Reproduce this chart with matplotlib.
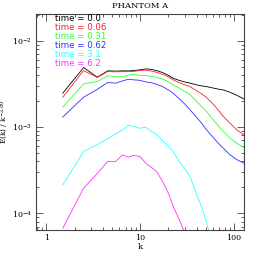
import numpy as np
from matplotlib import pyplot as plt
from matplotlib.ticker import LogLocator, FixedLocator, NullFormatter

nan = np.nan

# wavenumber shells
k = [1.5, 2.5, 3.5, 4.5, 5.5, 6.5, 7.5, 8.5, 10, 11.5, 13, 15, 17.5, 20,
     22.5, 26, 30, 34, 40, 45, 51, 60, 70, 77, 90, 107, 128]

labels = ["time = 0.0", "time = 0.06", "time = 0.31", "time = 0.62",
          "time = 3.1", "time = 6.2"]

e_t00 = [2.48e-3, 4.93e-3, 3.81e-3, 4.51e-3, 4.48e-3, 4.52e-3, 4.50e-3, 4.55e-3,
         4.64e-3, 4.75e-3, 4.70e-3, 4.55e-3, 4.30e-3, 4.00e-3, 3.70e-3, 3.50e-3,
         3.35e-3, 3.25e-3, 3.10e-3, 3.02e-3, 2.96e-3, 2.85e-3, 2.75e-3, 2.71e-3,
         2.55e-3, 2.35e-3, 2.12e-3]
e_t006 = [2.23e-3, 4.55e-3, 3.78e-3, 4.43e-3, 4.40e-3, 4.42e-3, 4.42e-3, 4.45e-3,
          4.55e-3, 4.60e-3, 4.50e-3, 4.35e-3, 4.10e-3, 3.85e-3, 3.55e-3, 3.30e-3,
          3.10e-3, 2.96e-3, 2.65e-3, 2.45e-3, 2.21e-3, 1.85e-3, 1.52e-3, 1.33e-3,
          1.12e-3, 9.3e-4, 8.1e-4]
e_t031 = [1.71e-3, 3.18e-3, 3.39e-3, 3.95e-3, 3.85e-3, 3.85e-3, 4.00e-3, 4.13e-3,
          3.98e-3, 4.00e-3, 3.90e-3, 3.80e-3, 3.60e-3, 3.35e-3, 3.10e-3, 2.85e-3,
          2.60e-3, 2.38e-3, 2.00e-3, 1.75e-3, 1.52e-3, 1.22e-3, 1.00e-3, 8.9e-4,
          7.5e-4, 6.5e-4, 5.8e-4]
e_t062 = [1.31e-3, 2.23e-3, 2.75e-3, 3.30e-3, 3.25e-3, 3.45e-3, 3.60e-3, 3.55e-3,
          3.50e-3, 3.35e-3, 3.30e-3, 3.15e-3, 2.95e-3, 2.70e-3, 2.48e-3, 2.15e-3,
          1.85e-3, 1.59e-3, 1.30e-3, 1.12e-3, 9.3e-4, 7.6e-4, 6.3e-4, 5.7e-4,
          4.8e-4, 4.2e-4, 3.8e-4]
e_t31 = [2.13e-4, 5.2e-4, 6.3e-4, 7.3e-4, 8.4e-4, 9.3e-4, 1.05e-3, 1.02e-3,
         9.7e-4, 1.00e-3, 9.0e-4, 8.2e-4, 6.9e-4, 6.0e-4, 5.2e-4, 4.0e-4,
         3.3e-4, 2.67e-4, 1.65e-4, 1.2e-4, 7.8e-5, 4.0e-5, nan, nan,
         nan, nan, nan]
e_t62 = [6.7e-5, 1.95e-4, 2.9e-4, 3.98e-4, 4.0e-4, 4.76e-4, 4.47e-4, 4.7e-4,
         4.55e-4, 3.8e-4, 3.45e-4, 3.05e-4, 2.3e-4, 1.7e-4, 1.2e-4, 8.5e-5,
         5.8e-5, nan, nan, nan, nan, nan, nan, nan,
         nan, nan, nan]

series = [e_t00, e_t006, e_t031, e_t062, e_t31, e_t62]
colors = ["black", "#ff2020", "#30ff30", "#3030ff", "#30ffff", "#ff30ff"]

plt.rcParams['font.family'] = ['DejaVu Serif']
plt.rcParams['mathtext.fontset'] = 'dejavuserif'

fig = plt.figure(figsize=(2.58, 2.58), dpi=100)
ax = fig.add_axes([0.14, 0.109, 0.806, 0.837])

for vals, c in zip(series, colors):
    ax.plot(k, vals, color=c, lw=0.6)

ax.set_xscale("log")
ax.set_yscale("log")
ax.set_xlim(0.78, 128)
ax.set_ylim(6.4e-5, 2.07e-2)

ax.xaxis.set_major_locator(FixedLocator([1, 10, 100]))
ax.set_xticklabels(["1", "10", "100"])
ax.xaxis.set_minor_locator(LogLocator(base=10, subs=np.arange(2, 10)))
ax.xaxis.set_minor_formatter(NullFormatter())
ax.yaxis.set_minor_locator(LogLocator(base=10, subs=np.arange(2, 10)))
ax.yaxis.set_minor_formatter(NullFormatter())

ax.tick_params(which="both", direction="in", top=True, right=True,
               labelsize=5.8, width=0.6, color="#444444", pad=3)
ax.tick_params(which="major", length=5)
ax.tick_params(which="minor", length=2.5)
for s in ax.spines.values():
    s.set_linewidth(0.8)
    s.set_color("#444444")

ax.set_title("PHANTOM A", fontsize=6, pad=4)
ax.set_xlabel("k", fontsize=6, labelpad=1)
ax.set_ylabel(r"E(k) / k$^{-2.80}$", fontsize=5.3, labelpad=1)

for i, (lab, c) in enumerate(zip(labels, colors)):
    ax.text(0.091, 0.977 - i * 0.041, lab, color=c, fontsize=6.2,
            family="DejaVu Sans", va="center", ha="left",
            transform=ax.transAxes)

fig.savefig("out.png", dpi=100)
